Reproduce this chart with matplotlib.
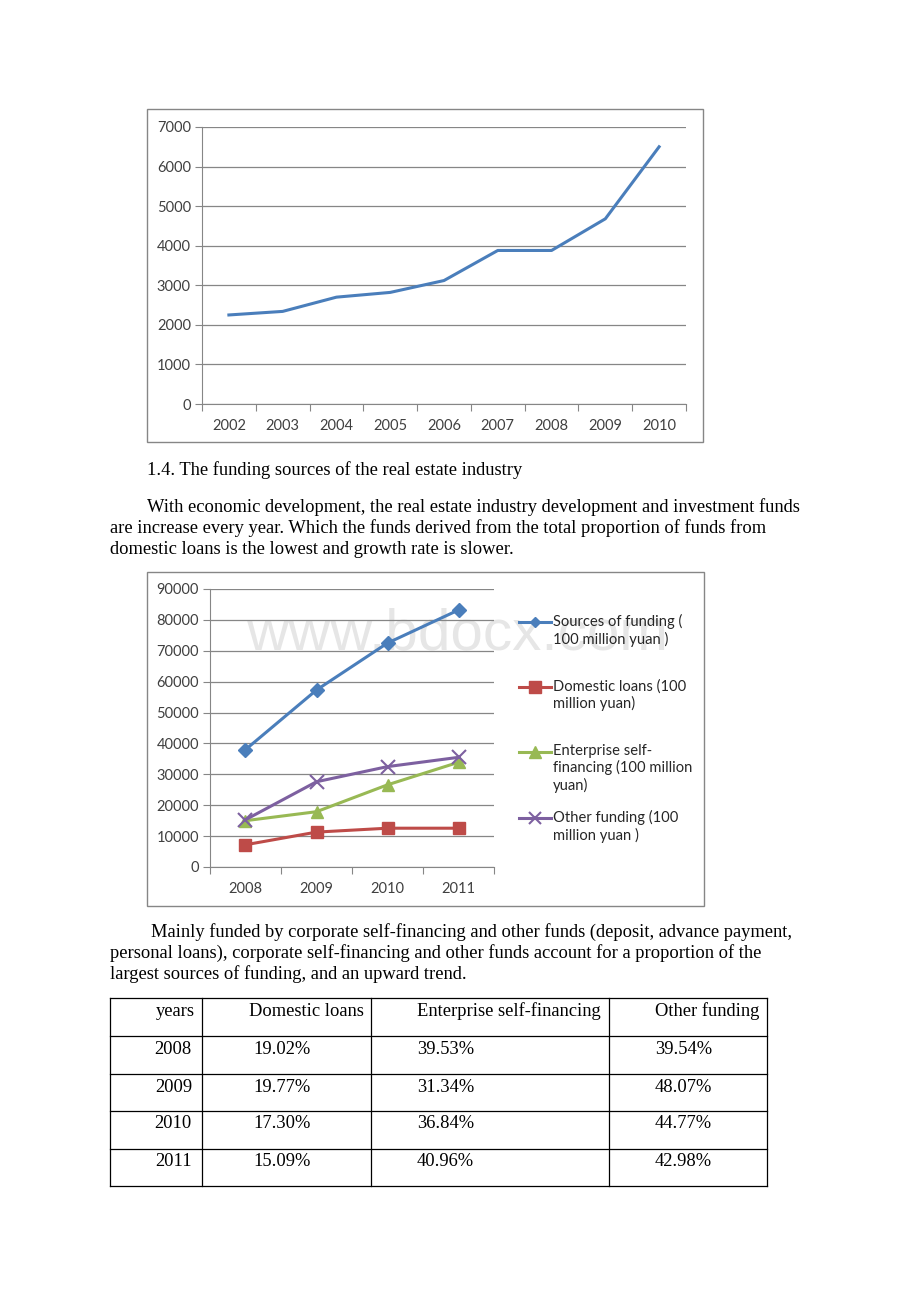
import matplotlib
matplotlib.use("Agg")
import matplotlib.pyplot as plt
from matplotlib.lines import Line2D
from matplotlib.patches import Rectangle

# data
years_a = ["2002", "2003", "2004", "2005", "2006", "2007", "2008", "2009", "2010"]
values_a = [2250, 2340, 2700, 2820, 3120, 3880, 3880, 4680, 6500]

years_b = ["2008", "2009", "2010", "2011"]
sources = [38000, 57300, 72500, 83200]
domestic = [7200, 11300, 12560, 12560]
self_fin = [15000, 17900, 26600, 33900]
other = [15300, 27600, 32500, 35500]
series_labels = ["Sources of funding (\n100 million yuan )",
                 "Domestic loans (100\nmillion yuan)",
                 "Enterprise self-\nfinancing (100 million\nyuan)",
                 "Other funding (100\nmillion yuan )"]

table_header = ["years", "Domestic loans", "Enterprise self-financing", "Other funding"]
table_years = ["2008", "2009", "2010", "2011"]
table_domestic = ["19.02%", "19.77%", "17.30%", "15.09%"]
table_self = ["39.53%", "31.34%", "36.84%", "40.96%"]
table_other = ["39.54%", "48.07%", "44.77%", "42.98%"]

W, H = 920, 1302
fig = plt.figure(figsize=(W / 100, H / 100), dpi=100)
fig.patch.set_facecolor("white")

GRID = "#868686"
TICKC = "#404040"
CHART_FONT = "Lato"
DOC_FONT = "Liberation Serif"
DOC_SIZE = 13.3
TICK_SIZE = 10.5


def px_axes(x0, y0, x1, y1, **kw):
    # pixel box (top-left origin) -> figure axes
    return fig.add_axes([x0 / W, 1 - y1 / H, (x1 - x0) / W, (y1 - y0) / H], **kw)


def fx(x):
    return x / W


def fy(y):
    return 1 - y / H


def frame(x0, y0, x1, y1):
    fig.patches.append(Rectangle((fx(x0), fy(y1)), fx(x1) - fx(x0), fy(y0) - fy(y1),
                                 transform=fig.transFigure, fill=False,
                                 edgecolor=GRID, linewidth=1.0))


def style_axes(ax, cats, ymax, ystep):
    n = len(cats)
    ax.set_facecolor("none")
    ax.set_xlim(-0.5, n - 0.5)
    ax.set_ylim(0, ymax)
    ax.set_yticks(range(0, ymax + 1, ystep))
    ax.set_xticks([i - 0.5 for i in range(n + 1)])
    ax.set_xticklabels([])
    ax.set_xticks(range(n), minor=True)
    ax.set_xticklabels(cats, minor=True)
    ax.tick_params(axis="x", which="major", length=5, color=GRID, direction="out")
    ax.tick_params(axis="x", which="minor", length=0, pad=11, labelsize=TICK_SIZE,
                   labelcolor=TICKC)
    ax.tick_params(axis="y", length=5, color=GRID, labelsize=TICK_SIZE, labelcolor=TICKC, pad=3)
    for s in ["top", "right"]:
        ax.spines[s].set_visible(False)
    ax.spines["left"].set_color(GRID)
    ax.spines["bottom"].set_color(GRID)
    ax.grid(axis="y", color=GRID, linewidth=0.9)
    ax.set_axisbelow(True)
    for lab in ax.get_xticklabels(minor=True) + ax.get_yticklabels():
        lab.set_fontfamily(CHART_FONT)


# chart 1
frame(147, 109, 703, 442)
ax1 = px_axes(202, 127, 686, 404)
ax1.plot(range(len(values_a)), values_a, color="#4A7EBB", linewidth=2.2)
style_axes(ax1, years_a, 7000, 1000)

# text block
fig.text(fx(147), fy(470), "1.4. The funding sources of the real estate industry",
         fontsize=DOC_SIZE, family=DOC_FONT, va="center")
para1 = ["With economic development, the real estate industry development and investment funds",
         "are increase every year. Which the funds derived from the total proportion of funds from",
         "domestic loans is the lowest and growth rate is slower."]
for i, line in enumerate(para1):
    fig.text(fx(147 if i == 0 else 110), fy(507 + 21 * i), line,
             fontsize=DOC_SIZE, family=DOC_FONT, va="center")

# chart 2
frame(147, 572, 704, 906)
fig.text(fx(457), fy(635), "www.bdocx.com", fontsize=42, color="#E6E6E6",
         family="Liberation Sans", ha="center", va="center", zorder=-1)
ax2 = px_axes(210, 589, 494, 867)
x = range(len(years_b))
ser = [
    (sources, "#4A7EBB", "D", 7, 1.0, 5),
    (domestic, "#BE4B48", "s", 9, 1.0, 8),
    (self_fin, "#98B954", "^", 9, 1.0, 8),
    (other, "#7D60A0", "x", 10, 1.5, 9),
]
for vals, c, m, ms, mew, lms in ser:
    ax2.plot(x, vals, color=c, linewidth=2.2, marker=m, markersize=ms,
             markeredgewidth=mew, markerfacecolor=c, markeredgecolor=c)
style_axes(ax2, years_b, 90000, 10000)

leg_y = [622, 687, 752, 818]
for (vals, c, m, ms, mew, lms), lbl, yy in zip(ser, series_labels, leg_y):
    fig.lines.append(Line2D([fx(519), fx(551)], [fy(yy), fy(yy)], transform=fig.transFigure,
                            color=c, linewidth=2.2))
    fig.lines.append(Line2D([fx(535)], [fy(yy)], transform=fig.transFigure, color=c,
                            marker=m, markersize=lms, markeredgewidth=mew,
                            markerfacecolor=c, markeredgecolor=c))
    fig.text(fx(553), fy(yy - 8), lbl, fontsize=10.6, family=CHART_FONT, color="#262626",
             va="top", linespacing=1.2)

# second paragraph
para2 = ["Mainly funded by corporate self-financing and other funds (deposit, advance payment,",
         "personal loans), corporate self-financing and other funds account for a proportion of the",
         "largest sources of funding, and an upward trend."]
for i, line in enumerate(para2):
    fig.text(fx(151 if i == 0 else 110), fy(932 + 21 * i), line,
             fontsize=DOC_SIZE, family=DOC_FONT, va="center")

# table
col_x = [110, 202, 371, 609, 767]
row_y = [998, 1036, 1074, 1111, 1149, 1186]
for cx in col_x:
    fig.lines.append(Line2D([fx(cx), fx(cx)], [fy(row_y[0]), fy(row_y[-1])],
                            transform=fig.transFigure, color="black", linewidth=0.9))
for ry in row_y:
    fig.lines.append(Line2D([fx(col_x[0]), fx(col_x[-1])], [fy(ry), fy(ry)],
                            transform=fig.transFigure, color="black", linewidth=0.9))

rows = [table_header] + [list(r) for r in zip(table_years, table_domestic, table_self, table_other)]
text_x = [(195, "right"), (249, "left"), (417, "left"), (655, "left")]
for ri, row in enumerate(rows):
    ty = row_y[ri] + 13
    for ci, cell in enumerate(row):
        tx, ha = text_x[ci]
        if ci == 0 and ri > 0:
            tx = 192
        if ci == 1 and ri > 0:
            tx = 253
        fig.text(fx(tx), fy(ty), cell, fontsize=DOC_SIZE, family=DOC_FONT, ha=ha, va="center")

fig.savefig("out.png", dpi=100, facecolor="white")
